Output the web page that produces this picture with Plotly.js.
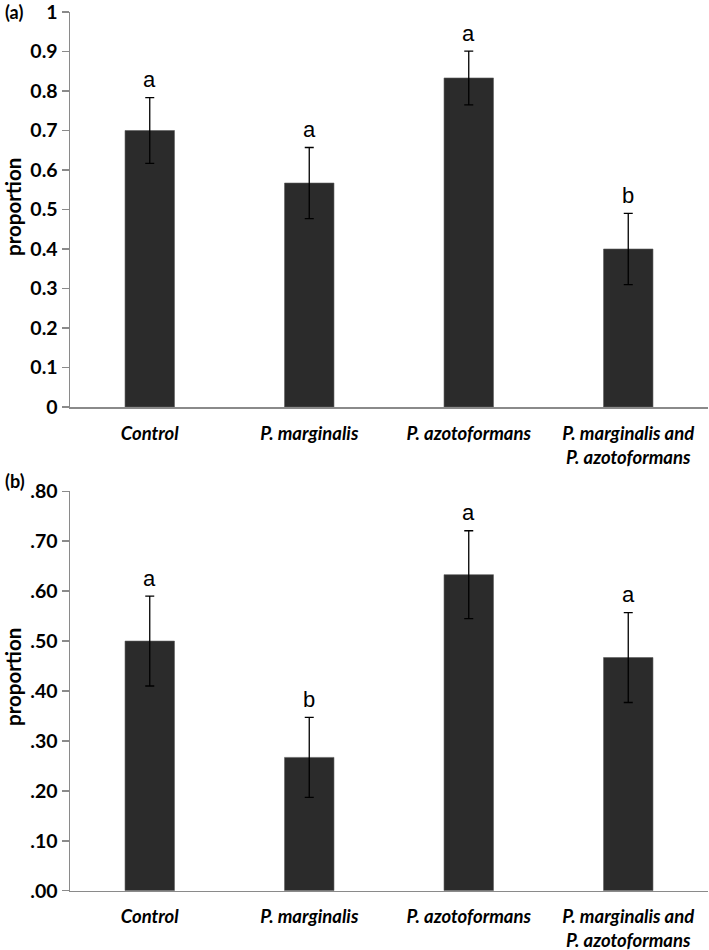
<!DOCTYPE html>
<html>
<head>
<meta charset="utf-8">
<script src="https://cdn.plot.ly/plotly-3.0.1.min.js"></script>
<style>html,body{margin:0;padding:0;background:#fff;}#chart{width:709px;height:950px;}</style>
</head>
<body>
<div id="chart"></div>
<script>
const categories = ['Control', 'P. marginalis', 'P. azotoformans', 'P. marginalis and<br>P. azotoformans'];
const propA = [0.70, 0.567, 0.833, 0.40];
const errA = [0.083, 0.09, 0.068, 0.09];
const lettersA = ['a', 'a', 'a', 'b'];
const propB = [0.50, 0.267, 0.633, 0.467];
const errB = [0.09, 0.08, 0.088, 0.09];
const lettersB = ['a', 'b', 'a', 'a'];
const tickValsA = [0, 0.1, 0.2, 0.3, 0.4, 0.5, 0.6, 0.7, 0.8, 0.9, 1];
const tickTextA = ['0', '0.1', '0.2', '0.3', '0.4', '0.5', '0.6', '0.7', '0.8', '0.9', '1'];
const tickValsB = [0, 0.1, 0.2, 0.3, 0.4, 0.5, 0.6, 0.7, 0.8];
const tickTextB = ['.00', '.10', '.20', '.30', '.40', '.50', '.60', '.70', '.80'];
const panelLabels = ['(a)', '(b)'];
const yTitle = 'proportion';

const W = 709, H = 950;
const FONT = 'Lato, "Open Sans", sans-serif';
const barColor = '#2b2b2b';
const axisColor = '#8a8a8a';

function barTrace(vals, errs, xa, ya) {
  return {
    type: 'bar', x: categories, y: vals, xaxis: xa, yaxis: ya,
    marker: {color: barColor, line: {color: '#5a5a5a', width: 0.6}},
    error_y: {type: 'data', array: errs, visible: true, color: '#000', thickness: 1.3, width: 4.5},
    hoverinfo: 'skip', showlegend: false
  };
}

const xDomain = [70 / W, 708 / W];
function xAxis(anchor) {
  return {
    domain: xDomain, anchor: anchor, type: 'category', range: [-0.5, 3.5],
    showline: true, linecolor: axisColor, linewidth: 1.5, ticks: '', showgrid: false, zeroline: false,
    tickfont: {family: FONT, size: 18.5, color: '#000', weight: 'bold', style: 'italic'},
    ticklabelstandoff: 9, ticklabeloverflow: 'allow', fixedrange: true
  };
}
function yAxis(anchor, domain, range, tv, tt) {
  return {
    domain: domain, anchor: anchor, range: range, tickmode: 'array', tickvals: tv, ticktext: tt,
    showline: true, linecolor: axisColor, linewidth: 1.5, ticks: 'outside', ticklen: 7, tickwidth: 1.5,
    tickcolor: axisColor, showgrid: false, zeroline: false, ticklabeloverflow: 'allow',
    tickfont: {family: FONT, size: 19.5, color: '#000', weight: 'bold'}, fixedrange: true
  };
}

const annotations = [];
function letterAnns(vals, errs, letters, xr, yr) {
  for (let i = 0; i < categories.length; i++) {
    annotations.push({
      x: categories[i], y: vals[i] + errs[i], xref: xr, yref: yr, text: letters[i], showarrow: false,
      yshift: 18, yanchor: 'middle', font: {family: 'Liberation Sans, Arial, sans-serif', size: 22, color: '#000'}
    });
  }
}
letterAnns(propA, errA, lettersA, 'x', 'y');
letterAnns(propB, errB, lettersB, 'x2', 'y2');

annotations.push({x: 3 / W, y: 1 - 12 / H, xref: 'paper', yref: 'paper', text: panelLabels[0], showarrow: false,
  xanchor: 'left', yanchor: 'middle', font: {family: FONT, size: 18, color: '#000', weight: 'bold'}});
annotations.push({x: 3 / W, y: 1 - 481 / H, xref: 'paper', yref: 'paper', text: panelLabels[1], showarrow: false,
  xanchor: 'left', yanchor: 'middle', font: {family: FONT, size: 18, color: '#000', weight: 'bold'}});
annotations.push({x: 13 / W, y: 1 - 207 / H, xref: 'paper', yref: 'paper', text: yTitle, showarrow: false,
  textangle: -90, xanchor: 'center', yanchor: 'middle', font: {family: FONT, size: 20.5, color: '#000', weight: 'bold'}});
annotations.push({x: 13 / W, y: 1 - 677 / H, xref: 'paper', yref: 'paper', text: yTitle, showarrow: false,
  textangle: -90, xanchor: 'center', yanchor: 'middle', font: {family: FONT, size: 20.5, color: '#000', weight: 'bold'}});

const layout = {
  width: W, height: H, margin: {l: 0, r: 0, t: 0, b: 0},
  paper_bgcolor: '#fff', plot_bgcolor: '#fff', bargap: 0.69,
  xaxis: xAxis('y'), yaxis: yAxis('x', [1 - 407 / H, 1 - 12 / H], [0, 1], tickValsA, tickTextA),
  xaxis2: xAxis('y2'), yaxis2: yAxis('x2', [1 - 890.7 / H, 1 - 491.3 / H], [0, 0.8], tickValsB, tickTextB),
  annotations: annotations, showlegend: false
};

Plotly.newPlot('chart', [barTrace(propA, errA, 'x', 'y'), barTrace(propB, errB, 'x2', 'y2')], layout,
  {staticPlot: true, displayModeBar: false});
</script>
</body>
</html>
